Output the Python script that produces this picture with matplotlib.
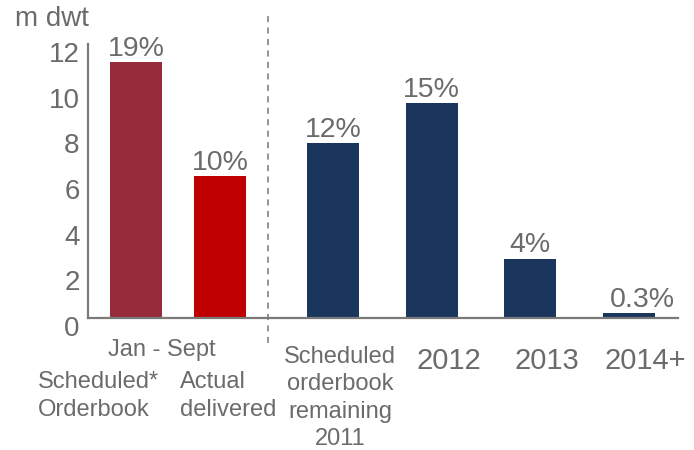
import matplotlib.pyplot as plt
from matplotlib.transforms import ScaledTranslation, blended_transform_factory

plt.rcParams['font.family'] = ['Liberation Sans', 'DejaVu Sans']

# values in m dwt
values = [11.2, 6.2, 7.65, 9.4, 2.6, 0.2]
pct_labels = ['19%', '10%', '12%', '15%', '4%', '0.3%']
bar_colors = ['#962B3B', '#C00000', '#1B365D', '#1B365D', '#1B365D', '#1B365D']
year_labels = ['Scheduled\norderbook\nremaining\n2011', '2012', '2013', '2014+']
yticks = [0, 2, 4, 6, 8, 10, 12]

grey = '#6B6B6B'
xpos = [0, 0.85, 2.0, 3.0, 4.0, 5.0]

fig = plt.figure(figsize=(6.94, 4.5), dpi=100)
ax = fig.add_axes([0.1268, 0.2933, 0.8501, 0.6089])

ax.bar(xpos, values, width=0.53, color=bar_colors)
ax.set_xlim(-0.49, 5.5)
ax.set_ylim(0, 12)

for i, (x, v, lab) in enumerate(zip(xpos, values, pct_labels)):
    dx = 0.14 if i == 5 else 0
    ax.text(x + dx, v + 0.02, lab, ha='center', va='bottom', fontsize=20.5,
            color=grey)

# separator between actual 2011 and the orderbook
ax.plot([1.335, 1.335], [-1.1, 13.3], ls=(0, (4, 3.5)), color='#777777',
        lw=1.1, clip_on=False)

for s in ['top', 'right']:
    ax.spines[s].set_visible(False)
for s in ['left', 'bottom']:
    ax.spines[s].set_color('#7A7A7A')
    ax.spines[s].set_linewidth(1.6)

ax.set_xticks([])
ax.set_yticks(yticks)
ax.tick_params(axis='y', length=0, pad=6, labelsize=20, labelcolor=grey)
shift = ScaledTranslation(0, -8 / 100, fig.dpi_scale_trans)
for lab in ax.get_yticklabels():
    lab.set_transform(lab.get_transform() + shift)

fig.text(15 / 694, 1 - 19 / 450, 'm dwt', ha='left', va='center', fontsize=20,
         color=grey)

# category labels under the axis
trans = blended_transform_factory(ax.transData, fig.transFigure)
ax.text(0.26, 1 - 350 / 450, 'Jan - Sept', transform=trans, ha='center',
        va='center', fontsize=17, color=grey)
ax.text(-1.0, 1 - 396 / 450, 'Scheduled*\nOrderbook', transform=trans,
        ha='left', va='center', fontsize=17, color=grey, linespacing=1.4)
ax.text(0.44, 1 - 396 / 450, 'Actual\ndelivered', transform=trans,
        ha='left', va='center', fontsize=17, color=grey, linespacing=1.4)
ax.text(2.07, 1 - 398 / 450, year_labels[0], transform=trans, ha='center',
        va='center', fontsize=17, color=grey, linespacing=1.3)
for x, lab in zip(xpos[3:], year_labels[1:]):
    ax.text(x + 0.17, 1 - 361 / 450, lab, transform=trans, ha='center',
            va='center', fontsize=21, color=grey)

fig.savefig('out.png', dpi=100)
